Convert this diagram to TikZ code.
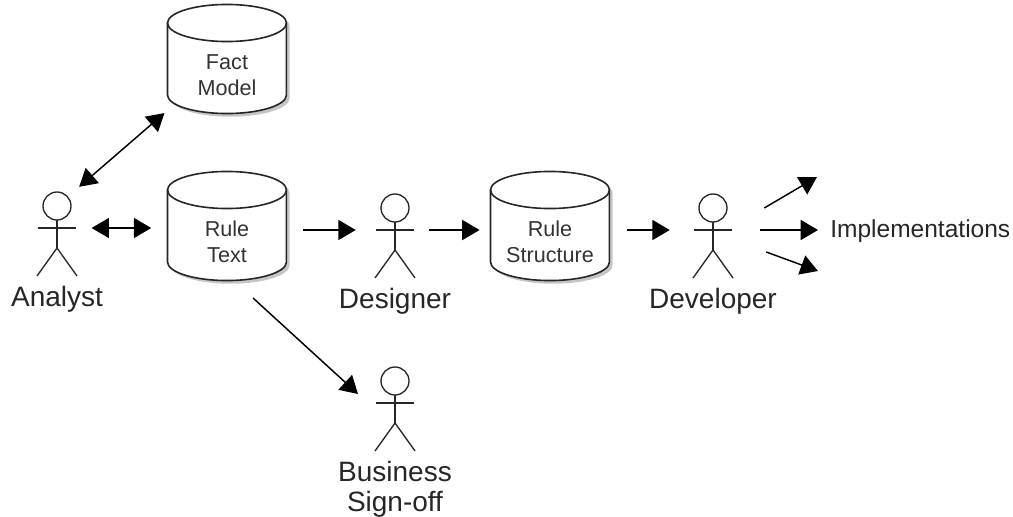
\documentclass[tikz,border=0pt]{standalone}
\usepackage{fontspec}
\setmainfont{Liberation Sans}
\usetikzlibrary{arrows.meta,calc,positioning,shadows}
\tikzset{
    storebox/.style={inner sep=0pt, minimum width=89.25pt, minimum height=81pt},
    storeline/.style={draw=black!85, line width=1.2pt},
    storeshadow/.style={fill=white, drop shadow={shadow xshift=2.4pt, shadow yshift=-2.4pt, fill=black!45, opacity=0.5}},
    storetext/.style={inner sep=0pt, align=center, font=\fontsize{16.2}{19.5}\selectfont, text=black!80},
    actorbox/.style={inner sep=0pt, minimum width=28.5pt, minimum height=0pt},
    stick/.style={draw=black!85, line width=1pt},
    actorlabel/.style={inner sep=0pt, align=center, font=\fontsize{21}{22.5}\selectfont, text=black!85},
    flow/.style={-{Triangle[length=13pt,width=15pt]}, draw=black, line width=1.1pt},
    twoway/.style={{Triangle[length=13pt,width=15pt]}-{Triangle[length=13pt,width=15pt]}, draw=black, line width=1.1pt}
}
\begin{document}
\begin{tikzpicture}[x=0.75pt, y=-0.75pt]
    \useasboundingbox (0,0) rectangle (1013,517);

    % stores
    \foreach \name/\px/\py/\caption in {factmodel/227/59/Fact\\Model, ruletext/227/226/Rule\\Text, rulestructure/550/226/Rule\\Structure} {
        \node[storebox] (\name) at (\px,\py) {};
        \draw[storeline, storeshadow] ($(\name)+(-59.5,-36)$) -- ++(0,72)
            arc[start angle=180, end angle=360, x radius=44.6pt, y radius=13.9pt] -- ++(0,-72)
            arc[start angle=0, end angle=180, x radius=44.6pt, y radius=13.9pt] -- cycle;
        \draw[storeline] ($(\name)+(-59.5,-36)$) arc[start angle=180, end angle=360, x radius=44.6pt, y radius=13.9pt];
        \node[storetext] (\name text) at ($(\name)+(0,16)$) {\caption};
    }

    % actors, named at the level of the arms
    \foreach \name/\px/\py/\caption in {analyst/57/228/Analyst, designer/395/230/Designer, developer/713/230/Developer, signoff/395/403/Business\\Sign-off} {
        \node[actorbox] (\name) at (\px,\py) {};
        \coordinate (\name head) at ($(\name)+(0,-22)$);
        \draw[stick] (\name head) circle (14);
        \draw[stick] (\name.west) -- (\name.east);
        \draw[stick] ($(\name)+(0,-8)$) -- ($(\name)+(0,20)$);
        \draw[stick] ($(\name)+(-20,48)$) -- ($(\name)+(0,20)$) -- ($(\name)+(20,48)$);
        \node[actorlabel, below=43pt of \name] (\name label) {\caption};
    }

    % free ends of the fan
    \coordinate (impltop) at (817,177);
    \coordinate (implbottom) at (818,271);
    \node[inner sep=0pt, anchor=west, font=\fontsize{18.4}{22}\selectfont, text=black!85] (implementations) at (830,231) {Implementations};

    % connectors
    \draw[twoway, shorten <=22pt, shorten >=62pt] (analysthead) -- (factmodel.center);
    \draw[twoway, shorten <=11.5pt, shorten >=12pt] (analyst.east) -- (analyst.east -| ruletext.west);
    \draw[flow, shorten <=12.5pt, shorten >=15pt] (ruletext.east |- designer.west) -- (designer.west);
    \draw[flow, shorten <=11pt, shorten >=8pt] (designer.east) -- (designer.east -| rulestructure.west);
    \draw[flow, shorten <=13pt, shorten >=18pt] (rulestructure.east |- developer.west) -- (developer.west);
    \draw[flow] ($(ruletext.center)+(26,72)$) -- ($(signoff)+(-37,-9)$);

    % fan towards the implementations
    \draw[flow] ($(developer.east)+(32,-22)$) -- (impltop);
    \draw[flow, shorten >=9pt] ($(developer.east)+(28,0)$) -- (developer.east -| implementations.west);
    \draw[flow] ($(developer.east)+(34,22)$) -- (implbottom);
\end{tikzpicture}
\end{document}
